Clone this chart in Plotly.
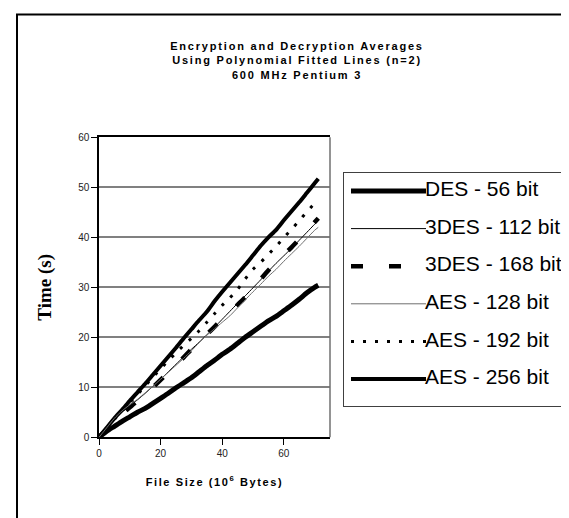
import plotly.graph_objects as go

W, H = 569, 518

# ---------------- data ----------------
file_size = [0, 2.5, 5, 7.5, 10, 12.5, 15, 17.5, 20, 22.5, 25, 27.5, 30, 32.5, 35,
             37.5, 40, 42.5, 45, 47.5, 50, 52.5, 55, 57.5, 60, 62.5, 65, 67.5, 70, 71.2]

des_56 = [0, 1.2, 2.2, 3.2, 4.1, 5.0, 5.8, 6.8, 7.8, 8.8, 9.9, 10.9, 11.9, 13.1, 14.3,
          15.4, 16.6, 17.6, 18.8, 20.0, 21.1, 22.2, 23.3, 24.2, 25.3, 26.4, 27.6, 28.9, 30.0, 30.4]
tdes_112 = [0, 1.8, 3.6, 5.0, 6.3, 7.5, 8.8, 10.2, 11.6, 13.1, 14.6, 16.1, 17.6, 19.0, 20.5,
            22.0, 23.6, 25.2, 26.8, 28.3, 29.9, 31.5, 33.2, 34.8, 36.3, 37.8, 39.4, 41.0, 42.6, 43.3]
tdes_168 = [0, 1.6, 3.1, 4.6, 6.0, 7.3, 8.6, 10.0, 11.5, 13.0, 14.5, 16.0, 17.6, 19.1, 20.6,
            22.1, 23.6, 25.0, 26.5, 28.0, 29.8, 31.6, 33.4, 35.0, 36.5, 38.0, 39.6, 41.3, 43.0, 43.8]
aes_128 = [0, 1.9, 3.8, 5.3, 6.5, 7.6, 8.9, 10.2, 11.6, 13.0, 14.4, 15.8, 17.3, 18.9, 20.4,
           21.7, 23.0, 24.3, 25.9, 27.5, 29.1, 30.6, 32.2, 33.6, 35.2, 36.7, 38.2, 39.8, 41.4, 42.0]
aes_192 = [0, 1.8, 3.6, 5.3, 7.0, 8.6, 10.3, 12.0, 13.7, 15.3, 16.9, 18.4, 19.8, 21.3, 23.0,
           24.7, 26.4, 27.9, 29.6, 31.7, 33.6, 35.0, 36.6, 38.2, 39.9, 41.6, 43.3, 45.1, 46.8, 47.6]
aes_256 = [0, 1.9, 3.8, 5.5, 7.3, 9.0, 10.7, 12.5, 14.3, 16.1, 17.9, 19.8, 21.6, 23.4, 25.1,
           27.2, 29.1, 30.9, 32.7, 34.5, 36.4, 38.3, 40.0, 41.5, 43.4, 45.2, 47.0, 48.9, 50.8, 51.7]

series_names = ["DES - 56 bit", "3DES - 112 bit", "3DES - 168 bit",
                "AES - 128 bit", "AES - 192 bit", "AES - 256 bit"]
series_values = [des_56, tdes_112, tdes_168, aes_128, aes_192, aes_256]

x_tick_vals = [0, 20, 40, 60]
y_tick_vals = [0, 10, 20, 30, 40, 50, 60]

title_lines = ["Encryption and Decryption Averages",
               "Using Polynomial Fitted Lines (n=2)",
               "600 MHz Pentium 3"]
x_title = "File Size (10<sup>6</sup> Bytes)"
y_title = "Time (s)"

# ---------------- styles ----------------
styles = [
    dict(color="black", width=5, dash="solid"),
    dict(color="black", width=1, dash="solid"),
    dict(color="black", width=4.5, dash="12px,26px"),
    dict(color="#6e6e6e", width=1, dash="solid"),
    dict(color="black", width=3, dash="3px,9px"),
    dict(color="black", width=4, dash="solid"),
]

SANS = "Liberation Sans, Arial, sans-serif"
SERIF = "Liberation Serif, Times New Roman, serif"

def px_x(p):
    return p / W

def px_y(p):
    return 1 - p / H

fig = go.Figure()

draw_order = [0, 5, 4, 2, 1, 3]
for i in draw_order:
    fig.add_trace(go.Scatter(
        x=file_size, y=series_values[i], mode="lines", name=series_names[i],
        line=dict(shape="spline", smoothing=0.6, **styles[i]),
        showlegend=False, xaxis="x", yaxis="y"))

# legend drawn on its own small axis pair
leg_w, leg_h = 230, 233
row_top, row_step = 18, 37.6
for i, name in enumerate(series_names):
    ry = row_top + i * row_step
    fig.add_trace(go.Scatter(
        x=[7, 82], y=[ry, ry], mode="lines", line=styles[i],
        showlegend=False, hoverinfo="skip", xaxis="x2", yaxis="y2"))
    fig.add_trace(go.Scatter(
        x=[81], y=[ry], mode="text", text=[name], textposition="middle right",
        textfont=dict(family=SANS, size=21, color="black"), cliponaxis=False,
        showlegend=False, hoverinfo="skip", xaxis="x2", yaxis="y2"))

spaced = lambda s, ls: f'<span style="letter-spacing:{ls}px">{s}</span>'

fig.update_layout(
    width=W, height=H,
    margin=dict(l=0, r=0, t=0, b=0, autoexpand=False),
    paper_bgcolor="white", plot_bgcolor="white",
    showlegend=False,
    title=dict(
        text="<br>".join(spaced(t, 1.8) for t in title_lines),
        font=dict(family=SANS, size=11, color="black", weight="bold"),
        x=px_x(289), xanchor="center", xref="paper",
        y=px_y(42), yanchor="middle", yref="paper"),
    xaxis=dict(
        domain=[px_x(91), px_x(322)], range=[0, 75],
        tickvals=x_tick_vals, ticks="outside", ticklen=6, tickwidth=1, tickcolor="black",
        tickfont=dict(family=SANS, size=10, color="#222"),
        showgrid=False, zeroline=False,
        showline=True, linecolor="black", linewidth=1.5, mirror=True,
        title=dict(text=spaced(x_title, 1.6), standoff=20,
                   font=dict(family=SANS, size=11, color="black", weight="bold")),
        anchor="y", fixedrange=True),
    yaxis=dict(
        domain=[px_y(429.3), px_y(129.3)], range=[0, 60],
        tickvals=y_tick_vals, ticks="outside", ticklen=6, tickwidth=1, tickcolor="black",
        tickfont=dict(family=SANS, size=10, color="#222"),
        showgrid=True, gridcolor="#808080", gridwidth=1.5, zeroline=False,
        showline=True, linecolor="black", linewidth=1.5,
        title=dict(text=y_title, standoff=21,
                   font=dict(family=SERIF, size=19, color="black", weight="bold")),
        anchor="x", fixedrange=True),
    xaxis2=dict(
        domain=[px_x(336), px_x(566)], range=[0, leg_w],
        showgrid=False, zeroline=False, showticklabels=False, ticks="",
        showline=True, linecolor="#404040", linewidth=1, mirror=True,
        anchor="y2", fixedrange=True),
    yaxis2=dict(
        domain=[px_y(398), px_y(165)], range=[leg_h, 0],
        showgrid=False, zeroline=False, showticklabels=False, ticks="",
        showline=True, linecolor="#404040", linewidth=1, mirror=True,
        anchor="x2", fixedrange=True),
    shapes=[
        dict(type="line", xref="x domain", yref="y domain", x0=1, x1=1, y0=0, y1=1,
             line=dict(color="#707070", width=1.5), layer="above"),
        dict(type="rect", xref="paper", yref="paper",
             x0=px_x(9), x1=px_x(567.5), y0=-0.05, y1=px_y(6.5),
             line=dict(color="black", width=2), layer="above"),
    ],
)

fig.write_html("out.html")
